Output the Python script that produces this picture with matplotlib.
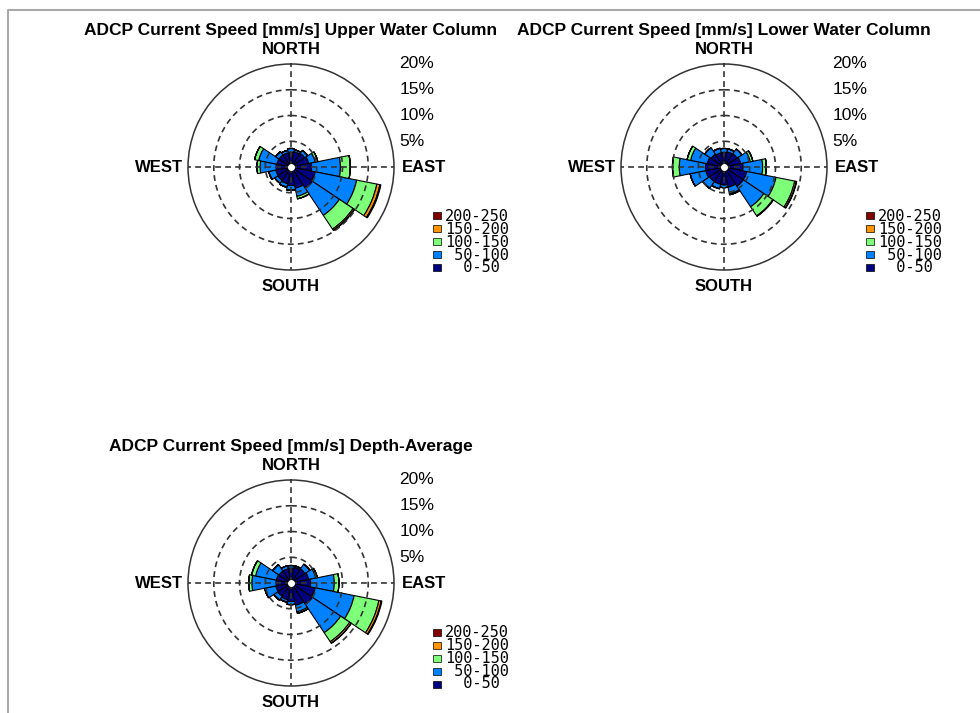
import numpy as np
import matplotlib.pyplot as plt
from matplotlib.lines import Line2D
from matplotlib.patches import Rectangle

# 16 compass sectors, clockwise from north
dirs = ['N', 'NNE', 'NE', 'ENE', 'E', 'ESE', 'SE', 'SSE',
        'S', 'SSW', 'SW', 'WSW', 'W', 'WNW', 'NW', 'NNW']
bins = ['0-50', '50-100', '100-150', '150-200', '200-250']
rings = [5, 10, 15, 20]

# frequency [%] per speed bin and direction
upper_0_50    = [2.9, 3.0, 3.2, 3.5, 4.0, 4.8, 5.0, 4.2, 3.6, 3.3, 3.1, 3.0, 2.9, 2.8, 2.8, 2.8]
upper_50_100  = [0.7, 0.4, 0.7, 1.3, 5.6, 8.2, 6.3, 1.6, 0.9, 0.7, 0.7, 1.4, 3.1, 3.6, 0.8, 0.5]
upper_100_150 = [0.0, 0.0, 0.0, 0.5, 1.9, 4.0, 3.2, 0.5, 0.0, 0.0, 0.0, 0.0, 0.6, 0.8, 0.0, 0.0]
upper_150_200 = [0.0, 0.0, 0.0, 0.0, 0.0, 0.6, 0.3, 0.0, 0.0, 0.0, 0.0, 0.0, 0.0, 0.0, 0.0, 0.0]
upper_200_250 = [0.0, 0.0, 0.0, 0.0, 0.0, 0.2, 0.05, 0.0, 0.0, 0.0, 0.0, 0.0, 0.0, 0.0, 0.0, 0.0]

lower_0_50    = [2.8, 3.0, 3.1, 3.3, 3.7, 4.5, 4.5, 4.0, 3.5, 3.4, 3.4, 3.6, 3.6, 3.3, 3.0, 2.8]
lower_50_100  = [0.8, 0.6, 1.1, 1.9, 3.8, 5.8, 4.8, 1.3, 0.5, 0.9, 1.6, 3.1, 5.1, 3.3, 1.5, 0.9]
lower_100_150 = [0.0, 0.0, 0.0, 0.5, 0.7, 3.7, 2.1, 0.2, 0.0, 0.0, 0.0, 0.0, 1.3, 0.7, 0.0, 0.0]
lower_150_200 = [0.0, 0.0, 0.0, 0.0, 0.0, 0.3, 0.1, 0.0, 0.0, 0.0, 0.0, 0.0, 0.0, 0.0, 0.0, 0.0]
lower_200_250 = [0.0, 0.0, 0.0, 0.0, 0.0, 0.1, 0.0, 0.0, 0.0, 0.0, 0.0, 0.0, 0.0, 0.0, 0.0, 0.0]

depth_0_50    = [2.9, 3.1, 3.3, 3.5, 3.8, 4.8, 5.0, 4.4, 3.6, 3.3, 3.1, 3.0, 2.9, 2.9, 2.8, 2.8]
depth_50_100  = [0.5, 0.3, 1.1, 1.4, 4.6, 7.7, 6.6, 1.3, 0.6, 0.5, 0.9, 2.2, 4.7, 4.1, 1.5, 0.6]
depth_100_150 = [0.0, 0.0, 0.0, 0.3, 0.9, 4.9, 2.1, 0.3, 0.0, 0.0, 0.0, 0.0, 0.6, 0.8, 0.0, 0.0]
depth_150_200 = [0.0, 0.0, 0.0, 0.0, 0.0, 0.45, 0.35, 0.0, 0.0, 0.0, 0.0, 0.0, 0.0, 0.0, 0.0, 0.0]
depth_200_250 = [0.0, 0.0, 0.0, 0.0, 0.0, 0.15, 0.05, 0.0, 0.0, 0.0, 0.0, 0.0, 0.0, 0.0, 0.0, 0.0]

upper = [upper_0_50, upper_50_100, upper_100_150, upper_150_200, upper_200_250]
lower = [lower_0_50, lower_50_100, lower_100_150, lower_150_200, lower_200_250]
depth = [depth_0_50, depth_50_100, depth_100_150, depth_150_200, depth_200_250]

colors = plt.cm.jet(np.linspace(0, 1, len(bins)))

W, H = 980, 713
R = 103  # pixel radius of the 20% circle


def rose(cx, cy, title, data):
    ax = fig.add_axes([(cx - R) / W, 1 - (cy + R) / H, 2 * R / W, 2 * R / H],
                      projection='polar')
    ax.set_theta_zero_location('N')
    ax.set_theta_direction(-1)
    theta = np.deg2rad(np.arange(len(dirs)) * 360 / len(dirs))
    bottom = np.zeros(len(dirs))
    for vals, c in zip(data, colors):
        vals = np.array(vals)
        ax.bar(theta, vals, width=2 * np.pi / len(dirs), bottom=bottom,
               color=c, edgecolor='black', linewidth=0.8, zorder=2)
        bottom = bottom + vals
    ax.set_ylim(0, rings[-1])
    ax.set_xticks([])
    ax.set_yticks([])
    ax.grid(False)
    ax.spines['polar'].set_linewidth(1.1)
    ax.spines['polar'].set_color('0.2')

    # dashed rings and axes drawn over the petals
    t = np.linspace(0, 2 * np.pi, 361)
    for r in rings[:-1]:
        ax.plot(t, np.full_like(t, r), color='0.2', lw=1.2, ls=(0, (3.5, 2.5)), zorder=5)
    for a in [0, 90, 180, 270]:
        ax.plot([np.deg2rad(a)] * 2, [0, rings[-1]], color='0.2', lw=1.2,
                ls=(0, (3.5, 2.5)), zorder=5)
    ax.plot(0, 0, 'o', color='white', ms=5, mec='none', zorder=6)

    for r in rings:
        ax.text(1.025, 0.5 + r / (2 * rings[-1]), '%d%%' % r, transform=ax.transAxes,
                ha='left', va='center', fontsize=12.5, family='Liberation Sans')

    lab = dict(transform=ax.transAxes, fontsize=12, fontweight='bold',
               family='Liberation Sans')
    ax.text(0.5, 1.07, 'NORTH', ha='center', va='center', **lab)
    ax.text(0.5, -0.08, 'SOUTH', ha='center', va='center', **lab)
    ax.text(-0.025, 0.5, 'WEST', ha='right', va='center', **lab)
    ax.text(1.04, 0.5, 'EAST', ha='left', va='center', **lab)
    ax.text(0.5, 1.165, title, ha='center', va='center', transform=ax.transAxes,
            fontsize=12.5, fontweight='bold', family='Liberation Sans')

    # legend, highest bin on top
    names = ['200-250', '150-200', '100-150', ' 50-100', '  0-50']
    for i, c in enumerate(colors[::-1]):
        y = 0.5 - (49 + 13 * i) / (2 * R)
        ax.add_patch(Rectangle((0.5 + 142 / (2 * R), y - 3.5 / (2 * R)), 8 / (2 * R), 7 / (2 * R),
                               transform=ax.transAxes, facecolor=c, edgecolor='black',
                               linewidth=0.5, clip_on=False))
    ax.text(0.5 + 154 / (2 * R), 0.5 - 42 / (2 * R), '\n'.join(names), transform=ax.transAxes,
            ha='left', va='top', fontsize=11, linespacing=0.82, family='DejaVu Sans Mono')
    return ax


fig = plt.figure(figsize=(W / 100, H / 100), dpi=100)
rose(291, 167, 'ADCP Current Speed [mm/s] Upper Water Column', upper)
rose(724, 167, 'ADCP Current Speed [mm/s] Lower Water Column', lower)
rose(291, 583, 'ADCP Current Speed [mm/s] Depth-Average', depth)

# grey frame at top and left
fig.add_artist(Line2D([7.5 / W, 7.5 / W, 1], [0, 1 - 10 / H, 1 - 10 / H],
                      color='#a8a8a8', lw=1.5))

fig.savefig('out.png', dpi=100)
